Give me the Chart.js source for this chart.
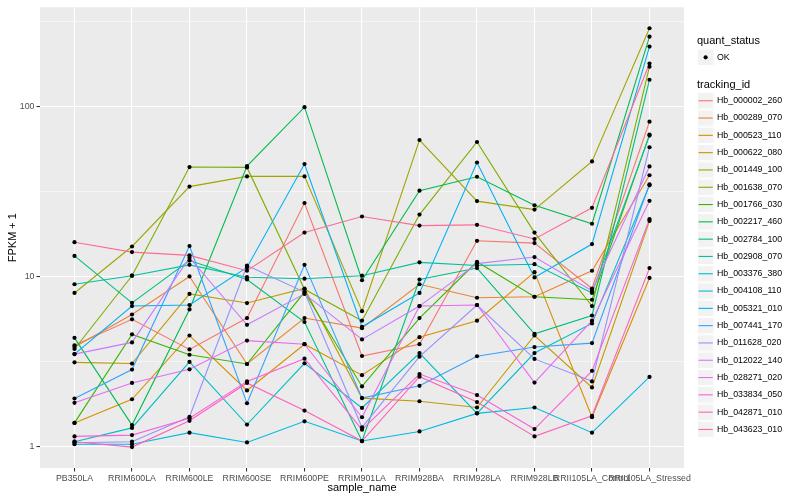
<!DOCTYPE html>
<html><head><meta charset="utf-8">
<script src="https://cdn.jsdelivr.net/npm/chart.js@4.4.1/dist/chart.umd.min.js"></script>
<style>html,body{margin:0;padding:0;background:#fff;}#wrap{position:relative;width:800px;height:500px;}</style>
</head><body><div id="wrap"><canvas id="c" width="800" height="500"></canvas></div>
<script>
const sampleNames = ["PB350LA","RRIM600LA","RRIM600LE","RRIM600SE","RRIM600PE","RRIM901LA","RRIM928BA","RRIM928LA","RRIM928LB","RRII105LA_Control","RRII105LA_Stressed"];
const trackingIds = ["Hb_000002_260","Hb_000289_070","Hb_000523_110","Hb_000622_080","Hb_001449_100","Hb_001638_070","Hb_001766_030","Hb_002217_460","Hb_002784_100","Hb_002908_070","Hb_003376_380","Hb_004108_110","Hb_005321_010","Hb_007441_170","Hb_011628_020","Hb_012022_140","Hb_028271_020","Hb_033834_050","Hb_042871_010","Hb_043623_010"];
const lineColors = ["#F8766D","#EA8331","#D89000","#C09B00","#A3A500","#7CAE00","#39B600","#00BB4E","#00BF7D","#00C1A3","#00BFC4","#00BAE0","#00B0F6","#35A2FF","#9590FF","#C77CFF","#E76BF3","#FA62DB","#FF62BC","#FF6C91"];

// FPKM + 1 values, one array per tracking_id (order = sampleNames)
const hb000002_260 = [3.94, 5.6, 3.73, 5.7, 27.0, 3.41, 4.0, 16.2, 15.7, 8.5, 81.1];
const hb000289_070 = [3.85, 5.98, 10.0, 3.06, 5.7, 4.97, 9.0, 7.5, 7.6, 10.8, 39.3];
const hb000523_110 = [1.38, 1.90, 4.5, 2.14, 4.0, 2.63, 4.4, 5.5, 10.6, 1.49, 9.8];
const hb000622_080 = [3.13, 3.08, 7.9, 6.98, 8.5, 1.93, 1.85, 1.70, 4.5, 2.23, 21.2];
const hb001449_100 = [8.0, 15.0, 33.7, 38.7, 38.7, 6.25, 63.3, 27.7, 24.7, 47.4, 287];
const hb001638_070 = [3.75, 10.1, 43.9, 43.7, 8.4, 5.5, 23.1, 61.6, 18.1, 6.7, 170.5];
const hb001766_030 = [1.38, 4.57, 3.47, 3.06, 8.1, 2.26, 5.7, 12.2, 7.6, 7.3, 68.1];
const hb002217_460 = [4.36, 1.34, 6.4, 44.5, 98.7, 9.5, 31.9, 38.5, 26.2, 20.4, 256];
const hb002784_100 = [13.2, 7.0, 12.4, 9.6, 5.4, 1.08, 9.6, 11.2, 4.6, 5.9, 143];
const hb002908_070 = [9.0, 10.1, 11.7, 9.9, 9.7, 10.1, 12.1, 11.6, 11.8, 8.0, 67.2];
const hb003376_380 = [1.07, 1.29, 3.15, 1.35, 3.09, 1.69, 3.55, 1.57, 3.55, 5.3, 34.3];
const hb004108_110 = [1.035, 1.035, 1.21, 1.06, 1.41, 1.08, 1.23, 1.57, 1.70, 1.21, 2.57];
const hb005321_010 = [3.5, 6.7, 6.8, 11.3, 45.7, 5.06, 8.0, 46.7, 9.87, 15.5, 224];
const hb007441_170 = [1.92, 2.84, 15.1, 1.80, 11.7, 1.93, 2.28, 3.4, 3.85, 4.06, 34.8];
const hb011628_020 = [1.055, 1.07, 1.50, 11.6, 8.1, 1.30, 3.38, 6.8, 3.28, 2.42, 57.4];
const hb012022_140 = [3.5, 4.1, 12.9, 5.2, 7.9, 4.27, 6.7, 11.9, 13.0, 8.25, 44.3];
const hb028271_020 = [1.81, 2.37, 2.85, 4.2, 4.0, 1.49, 6.7, 6.8, 2.38, 5.5, 27.8];
const hb033834_050 = [1.15, 1.17, 1.47, 2.42, 3.29, 1.26, 2.67, 2.01, 1.27, 2.79, 21.7];
const hb042871_010 = [1.07, 0.995, 1.42, 2.37, 1.63, 1.08, 2.58, 1.83, 1.15, 1.52, 11.2];
const hb043623_010 = [15.9, 13.9, 13.3, 10.8, 18.1, 22.5, 19.9, 20.1, 16.6, 25.3, 178];

const seriesValues = [hb000002_260, hb000289_070, hb000523_110, hb000622_080, hb001449_100, hb001638_070, hb001766_030, hb002217_460, hb002784_100, hb002908_070, hb003376_380, hb004108_110, hb005321_010, hb007441_170, hb011628_020, hb012022_140, hb028271_020, hb033834_050, hb042871_010, hb043623_010];

const yMajorTicks = [1, 10, 100];
const yMinorTicks = [3.1623, 31.623, 316.23];
const legendStatus = ["OK"];
const FONT = '"Liberation Sans", Arial, Helvetica, sans-serif';

const isMajor = v => yMajorTicks.some(m => Math.abs(m - v) < 1e-6);

const panelBg = {
  id: 'panelBg',
  beforeDraw(chart) {
    const {ctx, chartArea: a} = chart;
    ctx.save();
    ctx.fillStyle = '#ffffff';
    ctx.fillRect(0, 0, chart.width, chart.height);
    ctx.fillStyle = '#EBEBEB';
    ctx.fillRect(a.left, a.top, a.right - a.left, a.bottom - a.top);
    ctx.restore();
  }
};

const pointsOnTop = {
  id: 'pointsOnTop',
  afterDatasetsDraw(chart) {
    const ctx = chart.ctx;
    ctx.save();
    ctx.fillStyle = '#000';
    chart.data.datasets.forEach((ds, i) => {
      chart.getDatasetMeta(i).data.forEach(el => {
        ctx.beginPath();
        ctx.arc(el.x, el.y, 2.1, 0, Math.PI * 2);
        ctx.fill();
      });
    });
    ctx.restore();
  }
};

const titlesAndLegend = {
  id: 'titlesAndLegend',
  afterDraw(chart) {
    const {ctx, chartArea: a} = chart;
    ctx.save();
    ctx.fillStyle = '#000';
    ctx.font = '11px ' + FONT;
    ctx.textAlign = 'center';
    ctx.textBaseline = 'middle';
    ctx.fillText('sample_name', (a.left + a.right) / 2, 488);
    ctx.save();
    ctx.translate(13, (a.top + a.bottom) / 2);
    ctx.rotate(-Math.PI / 2);
    ctx.fillText('FPKM + 1', 0, 0);
    ctx.restore();

    const lx = 697, kw = 17.3, kh = 17.3, tx = 717;
    ctx.textAlign = 'left';
    ctx.font = '11px ' + FONT;
    ctx.fillText('quant_status', lx, 41);
    let ky = 48.7;
    legendStatus.forEach((s, i) => {
      const y0 = ky + i * kh;
      ctx.fillStyle = '#F2F2F2';
      ctx.fillRect(lx, y0, kw, kh);
      ctx.strokeStyle = '#ffffff';
      ctx.lineWidth = 1;
      ctx.strokeRect(lx + 0.5, y0 + 0.5, kw - 1, kh - 1);
      ctx.fillStyle = '#000';
      ctx.beginPath();
      ctx.arc(lx + kw / 2, y0 + kh / 2, 2.1, 0, Math.PI * 2);
      ctx.fill();
      ctx.font = '8.8px ' + FONT;
      ctx.fillText(s, tx, y0 + kh / 2);
    });
    ctx.font = '11px ' + FONT;
    ctx.fillStyle = '#000';
    ctx.fillText('tracking_id', lx, 84.5);
    const top = 92.1;
    trackingIds.forEach((id, i) => {
      const y0 = top + i * kh;
      ctx.fillStyle = '#F2F2F2';
      ctx.fillRect(lx, y0, kw, kh);
      ctx.strokeStyle = '#ffffff';
      ctx.lineWidth = 1;
      ctx.strokeRect(lx + 0.5, y0 + 0.5, kw - 1, kh - 1);
      ctx.strokeStyle = lineColors[i];
      ctx.lineWidth = 1.1;
      ctx.beginPath();
      ctx.moveTo(lx + 1.5, y0 + kh / 2);
      ctx.lineTo(lx + kw - 1.5, y0 + kh / 2);
      ctx.stroke();
      ctx.fillStyle = '#000';
      ctx.font = '8.8px ' + FONT;
      ctx.fillText(id, tx, y0 + kh / 2);
    });
    ctx.restore();
  }
};

const datasets = seriesValues.map((vals, i) => ({
  label: trackingIds[i],
  data: vals.map((v, j) => ({x: j, y: v})),
  borderColor: lineColors[i],
  backgroundColor: lineColors[i],
  borderWidth: 1.1,
  pointRadius: 0,
  pointHoverRadius: 0,
  tension: 0,
  fill: false,
  order: seriesValues.length - i
}));

new Chart(document.getElementById('c'), {
  type: 'line',
  data: {datasets},
  options: {
    responsive: false,
    animation: false,
    devicePixelRatio: 1,
    events: [],
    layout: {padding: {left: 0, right: 116, top: 5, bottom: 0}},
    plugins: {legend: {display: false}, tooltip: {enabled: false}},
    scales: {
      x: {
        type: 'linear',
        min: -0.6,
        max: 10.6,
        afterFit(s) { s.height = 32; },
        afterBuildTicks(s) { s.ticks = sampleNames.map((_, i) => ({value: i})); },
        ticks: {
          autoSkip: false, maxRotation: 0, minRotation: 0, padding: 1.5,
          color: '#4D4D4D', font: {family: FONT, size: 8.8},
          callback: v => sampleNames[v]
        },
        grid: {color: '#ffffff', lineWidth: 1.07, tickLength: 3.5, tickColor: '#333333', tickWidth: 1.07, drawOnChartArea: true},
        border: {display: false}
      },
      y: {
        type: 'logarithmic',
        min: 0.75,
        max: 381,
        afterFit(s) { s.width = 40; },
        afterBuildTicks(s) {
          s.ticks = yMajorTicks.concat(yMinorTicks).sort((p, q) => p - q).map(v => ({value: v}));
        },
        ticks: {
          autoSkip: false, padding: 2,
          color: '#4D4D4D', font: {family: FONT, size: 8.8},
          callback: v => isMajor(v) ? String(Math.round(v)) : ''
        },
        grid: {
          color: '#ffffff',
          lineWidth: c => (c.tick && isMajor(c.tick.value)) ? 1.07 : 0.53,
          tickLength: 3.5,
          tickColor: c => (c.tick && isMajor(c.tick.value)) ? '#333333' : 'rgba(0,0,0,0)',
          tickWidth: 1.07
        },
        border: {display: false}
      }
    }
  },
  plugins: [panelBg, pointsOnTop, titlesAndLegend]
});
</script></body></html>
